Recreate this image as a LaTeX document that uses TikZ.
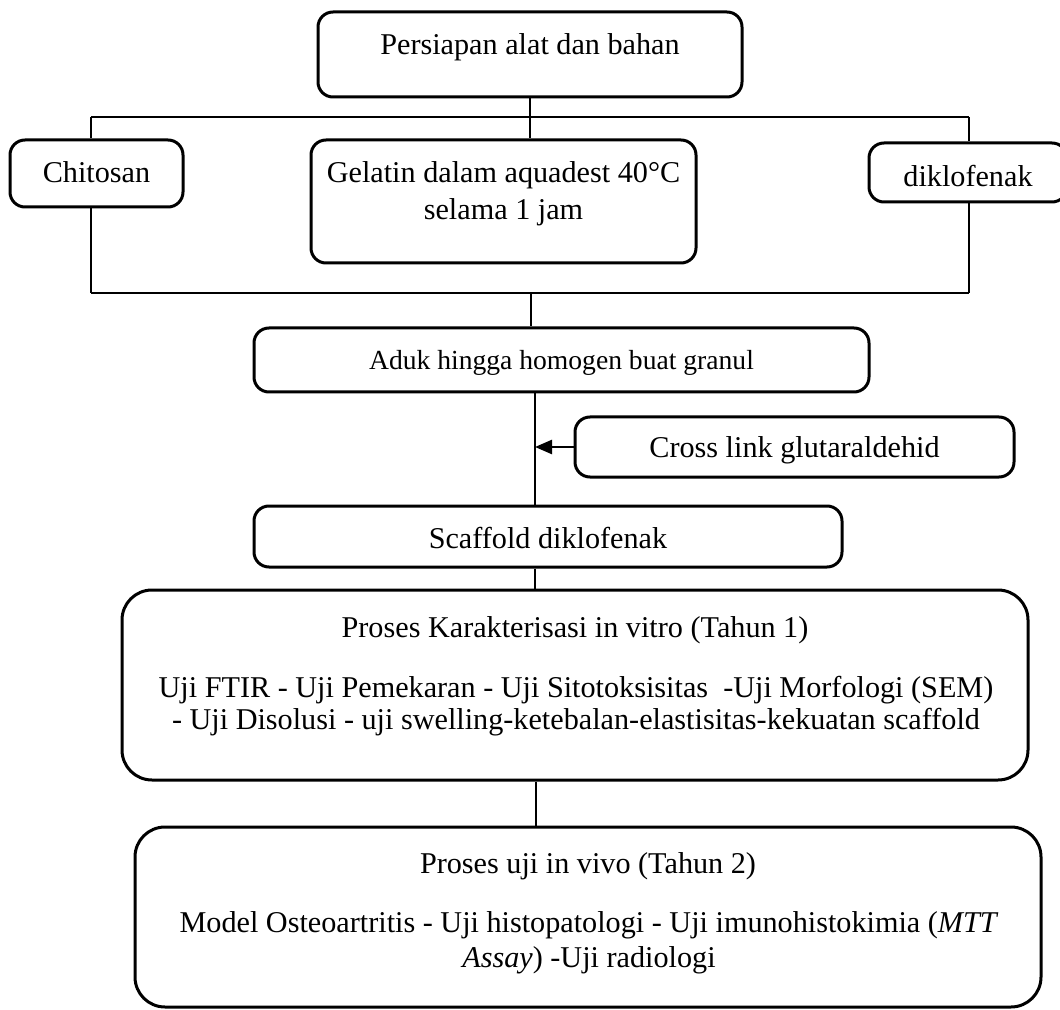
\documentclass[tikz,border=0pt]{standalone}
\usepackage{fontspec}
\setmainfont{Liberation Serif}
\usetikzlibrary{arrows.meta}
\newcommand{\lowerby}[2]{\raisebox{-#1}[\height][\depth]{#2}}
\begin{document}
\begin{tikzpicture}[x=0.5pt,y=-0.5pt,
  box/.style={draw,line width=1.5pt,rounded corners=7.5pt,inner sep=0pt,
    font=\fontsize{15.1}{17}\selectfont},
  bigbox/.style={box,rounded corners=15pt},
  txt/.style={inner sep=0pt,align=center,font=\fontsize{15.1}{16}\selectfont},
  conn/.style={line width=1.2pt}]
\useasboundingbox (0,0) rectangle (1060,1010);
% boxes
\node[box,minimum width=212pt,minimum height=42.5pt] (top) at (530,54.5) {};
\node[txt] (ttop) at (530,47) {Persiapan alat dan bahan};
\node[box,minimum width=86.5pt,minimum height=33.5pt] (chit) at (96.5,173.5) {\raisebox{0.5pt}[\height][\depth]{Chitosan}};
\node[box,minimum width=192.5pt,minimum height=61.5pt] (gel) at (503.5,201.5) {};
\node[txt,font=\fontsize{15.1}{18.5}\selectfont] (tgel) at (503.5,194) {Gelatin dalam aquadest 40°C\\selama 1 jam};
\node[box,minimum width=99pt,minimum height=29.5pt] (dik) at (968,172.5) {\lowerby{2pt}{diklofenak}};
\node[box,minimum width=307.5pt,minimum height=32pt,font=\fontsize{13.8}{15}\selectfont] (aduk) at (561.5,360) {\lowerby{1.5pt}{Aduk hingga homogen buat granul}};
\node[box,minimum width=219.5pt,minimum height=30pt] (cross) at (794.5,447) {\lowerby{1.8pt}{Cross link glutaraldehid}};
\node[box,minimum width=294pt,minimum height=30.5pt] (scaf) at (548,536.5) {\lowerby{1pt}{Scaffold diklofenak}};
\node[bigbox,minimum width=453pt,minimum height=95pt] (kar) at (575,685) {};
\node[txt] (tkar) at (575,630) {Proses Karakterisasi in vitro (Tahun 1)};
\node[txt] (bkar) at (576,706.5) {Uji FTIR - Uji Pemekaran - Uji Sitotoksisitas~ -Uji Morfologi (SEM)\\- Uji Disolusi - uji swelling-ketebalan-elastisitas-kekuatan scaffold};
\node[bigbox,minimum width=453pt,minimum height=90pt] (vivo) at (588,917) {};
\node[txt] (tvivo) at (588,866) {Proses uji in vivo (Tahun 2)};
\node[txt,font=\fontsize{15.1}{17.5}\selectfont] (bvivo) at (589,942.5) {Model Osteoartritis - Uji histopatologi - Uji imunohistokimia (\textit{MTT}\\\textit{Assay}) -Uji radiologi};
% bus coordinates
\coordinate (busL) at (91,117);
\coordinate (busR) at (969,117);
\coordinate (botL) at (91,293);
\coordinate (botR) at (969,293);
\coordinate (axA) at (531,293);
\coordinate (axB) at (535,0);
\coordinate (axC) at (536,0);
% connectors
\draw[conn] (top.south) -- (top.south |- busL);
\draw[conn] (busL) -- (busR);
\draw[conn] (busL) -- (busL |- chit.north);
\draw[conn] (busR) -- (busR |- dik.north);
\draw[conn] (top.south |- busL) -- (top.south |- gel.north);
\draw[conn] (busL |- chit.south) -- (botL);
\draw[conn] (busR |- dik.south) -- (botR);
\draw[conn] (botL) -- (botR);
\draw[conn] (axA) -- (axA |- aduk.north);
\draw[conn] (axB |- aduk.south) -- (axB |- scaf.north);
\draw[conn,-{Triangle[length=8.5pt,width=7pt]}] (cross.west) -- (axB |- cross.west);
\draw[conn] (axB |- scaf.south) -- (axB |- kar.north);
\draw[conn] (axC |- kar.south) -- (axC |- vivo.north);
\end{tikzpicture}
\end{document}
